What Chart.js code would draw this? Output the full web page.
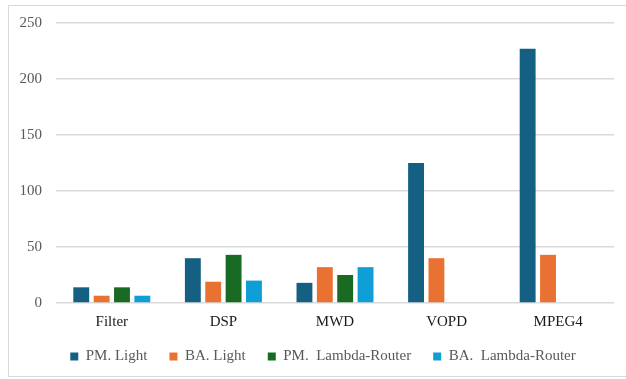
<!DOCTYPE html>
<html>
<head>
<meta charset="utf-8">
<script src="https://cdn.jsdelivr.net/npm/chart.js@4/dist/chart.umd.min.js"></script>
<style>
  html, body { margin: 0; padding: 0; background: #fff; }
  #wrap { position: relative; width: 626px; height: 379px; overflow: hidden; }
  #frame { position: absolute; left: 8px; top: 5px; width: 640px; height: 372px; border: 1px solid #d9d9d9; box-sizing: border-box; }
  canvas { position: absolute; left: 0; top: 0; }
</style>
</head>
<body>
<div id="wrap">
  <div id="frame"></div>
  <canvas id="c" width="626" height="400"></canvas>
</div>
<script>
const categories = ['Filter', 'DSP', 'MWD', 'VOPD', 'MPEG4'];
const pmLight = [14, 40, 18, 125, 227];
const baLight = [6.5, 19, 32, 40, 43];
const pmLambda = [14, 43, 25, 0, 0];
const baLambda = [6.5, 20, 32, 0, 0];
const seriesNames = ['PM. Light', 'BA. Light', 'PM.  Lambda-Router', 'BA.  Lambda-Router'];
const yTicks = [0, 50, 100, 150, 200, 250];

const colors = ['#156082', '#e97132', '#196b24', '#0f9ed5'];
const serif = '"Liberation Serif", "Times New Roman", serif';

const seriesValues = [pmLight, baLight, pmLambda, baLambda];

// Centre the legend under the plot area rather than the whole canvas
const legendShift = {
  id: 'legendShift',
  afterLayout(chart) {
    const lg = chart.legend;
    if (lg) { lg.left += 16; lg.right += 16; }
  }
};

new Chart(document.getElementById('c'), {
  type: 'bar',
  data: {
    labels: categories,
    datasets: seriesValues.map((vals, i) => ({
      label: seriesNames[i],
      data: vals,
      backgroundColor: colors[i],
      borderWidth: 0,
      categoryPercentage: 0.73,
      barPercentage: 0.78
    }))
  },
  options: {
    responsive: false,
    animation: false,
    layout: { padding: { left: 0, right: 12, top: 23, bottom: 26 } },
    plugins: {
      tooltip: { enabled: false },
      legend: {
        position: 'bottom',
        labels: {
          boxWidth: 8,
          boxHeight: 8,
          padding: 22,
          color: '#595959',
          font: { family: serif, size: 15 },
          generateLabels(chart) {
            return chart.data.datasets.map((ds, i) => ({
              text: ds.label,
              fillStyle: ds.backgroundColor,
              strokeStyle: ds.backgroundColor,
              lineWidth: 0,
              datasetIndex: i,
              fontColor: '#595959'
            }));
          }
        }
      }
    },
    scales: {
      x: {
        afterFit(axis) { axis.height = 24; },
        grid: { display: false, drawTicks: false },
        border: { display: false },
        ticks: { color: '#1a1a1a', font: { family: serif, size: 15 }, padding: 10 }
      },
      y: {
        min: 0,
        max: 250,
        afterBuildTicks(axis) { axis.ticks = yTicks.map(v => ({ value: v })); },
        afterFit(axis) { axis.width = 56; },
        grid: { color: '#d9d9d9', lineWidth: 1.5, drawTicks: false },
        border: { display: false },
        ticks: { color: '#595959', font: { family: serif, size: 15 }, padding: 14 }
      }
    }
  },
  plugins: [legendShift]
});
</script>
</body>
</html>
